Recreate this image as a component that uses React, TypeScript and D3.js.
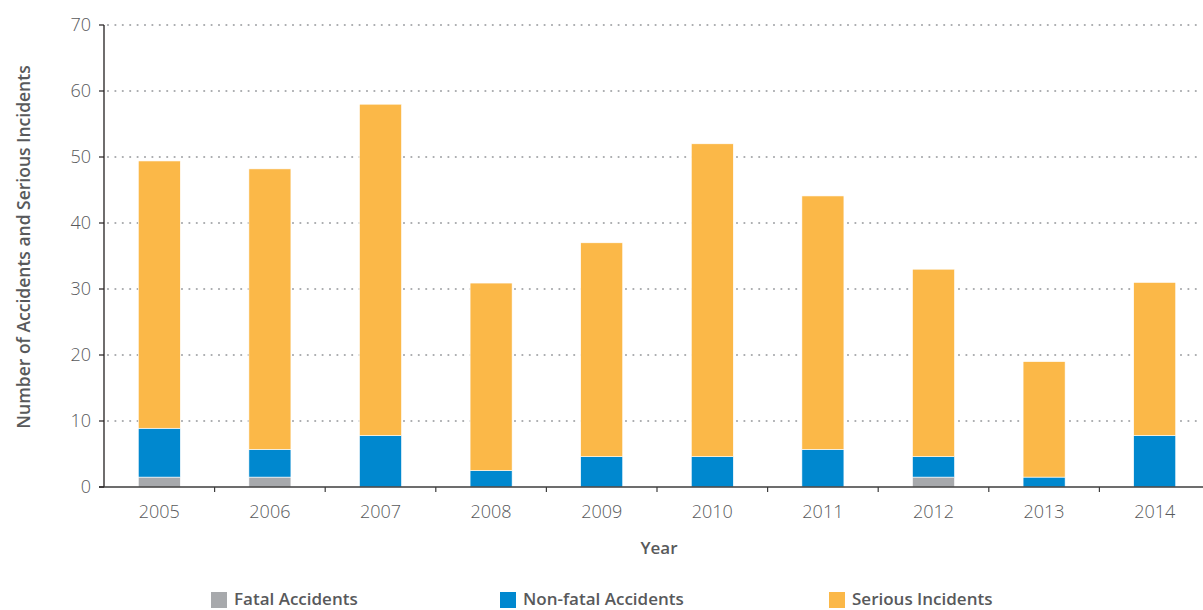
import React from "react";
import * as d3 from "d3";

const years = ["2005","2006","2007","2008","2009","2010","2011","2012","2013","2014"];
const fatal = [1.5, 1.5, 0, 0, 0, 0, 0, 1.5, 0, 0];
const nonFatal = [7.4, 4.2, 7.8, 2.5, 4.6, 4.6, 5.7, 3.1, 1.5, 7.8];
const serious = [40.5, 42.5, 50.2, 28.4, 32.4, 47.4, 38.4, 28.4, 17.5, 23.2];
const yTicks = [0, 10, 20, 30, 40, 50, 60, 70];
const seriesNames = ["Fatal Accidents", "Non-fatal Accidents", "Serious Incidents"];
const colors = ["#a7a9ac", "#0088cf", "#fbb848"];

export default function App() {
  const W = 1203, H = 610;
  const x0 = 104, x1 = 1210, yTop = 25, yBot = 487;
  const x = d3.scaleBand<string>().domain(years).range([x0, x1]).paddingInner(0.62).paddingOuter(0.31);
  const xb = d3.scaleBand<string>().domain(years).range([x0, x1]);
  const y = d3.scaleLinear().domain([0, 70]).range([yBot, yTop]);
  const table = years.map((yr, i) => ({ year: yr, f: fatal[i], n: nonFatal[i], s: serious[i] }));
  const stack = d3.stack<any>().keys(["f", "n", "s"])(table);
  const font = "'Open Sans', sans-serif";
  const textColor = "#58595b";
  const legendX = [211, 500, 829];

  return (
    <svg width={W} height={H} style={{ position: "absolute", left: 0, top: 0 }} fontFamily={font}>
      <rect width={W} height={H} fill="#fff" />
      {yTicks.filter(t => t > 0).map(t => (
        <line key={t} x1={x0 + 4} x2={W} y1={y(t)} y2={y(t)} stroke="#a7a9ac" strokeWidth={2.2} strokeDasharray="0 7.4" strokeLinecap="round" />
      ))}
      {stack.map((layer, li) => (
        <g key={li} fill={colors[li]}>
          {layer.map((d, i) => d[1] - d[0] > 0 ? (
            <rect key={i} x={x(years[i])!} width={x.bandwidth()} y={y(d[1])} height={y(d[0]) - y(d[1])} stroke="#fff" strokeWidth={0.6} />
          ) : null)}
        </g>
      ))}
      <line x1={x0} x2={x0} y1={yTop} y2={yBot} stroke="#231f20" strokeWidth={1.3} />
      <line x1={x0 - 5} x2={W} y1={yBot} y2={yBot} stroke="#3d3d3d" strokeWidth={1.5} />
      {yTicks.map(t => (
        <g key={t}>
          <line x1={x0 - 5} x2={x0} y1={y(t)} y2={y(t)} stroke="#231f20" strokeWidth={1.2} />
          <text x={x0 - 13} y={y(t)} dy="0.36em" textAnchor="end" fontSize={18} fontWeight={300} fill={textColor}>{t}</text>
        </g>
      ))}
      {years.slice(1).map(yr => (
        <line key={yr} x1={xb(yr)!} x2={xb(yr)!} y1={yBot} y2={yBot + 5} stroke="#3d3d3d" strokeWidth={1.2} />
      ))}
      {years.map(yr => (
        <text key={yr} x={x(yr)! + x.bandwidth() / 2} y={518} textAnchor="middle" fontSize={18} fontWeight={300} fill={textColor}>{yr}</text>
      ))}
      <text x={659} y={554} textAnchor="middle" fontSize={17} fontWeight={600} fill={textColor}>Year</text>
      <text transform={`translate(30,247) rotate(-90)`} textAnchor="middle" fontSize={17.5} fontWeight={600} fill={textColor}>Number of Accidents and Serious Incidents</text>
      {seriesNames.map((nm, i) => (
        <g key={nm}>
          <rect x={legendX[i]} y={592} width={16} height={16} fill={colors[i]} />
          <text x={legendX[i] + 23} y={605} fontSize={17} fontWeight={600} fill={textColor}>{nm}</text>
        </g>
      ))}
    </svg>
  );
}
